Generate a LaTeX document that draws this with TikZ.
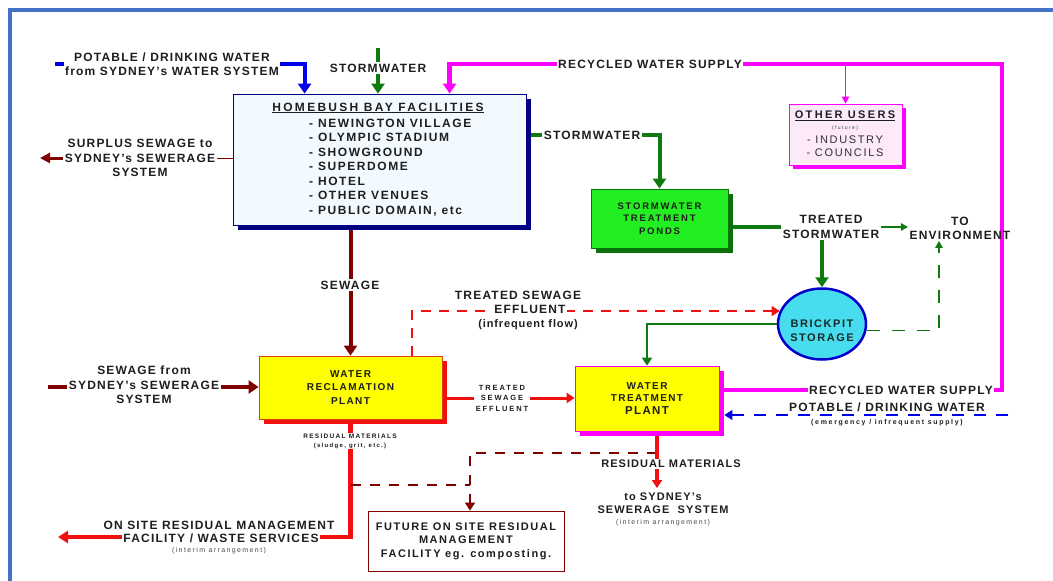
\documentclass[tikz,border=0pt]{standalone}
\usepackage{fontspec}
\setmainfont{Liberation Sans}
\usetikzlibrary{arrows.meta,shapes.geometric,shadows,backgrounds}
\definecolor{frameblue}{HTML}{4472C4}
\definecolor{ink}{HTML}{1E1E1E}
\definecolor{navy}{HTML}{000080}
\definecolor{hbfill}{HTML}{F3FAFF}
\definecolor{sewred}{HTML}{800000}
\definecolor{pipered}{HTML}{F01010}
\definecolor{pipegreen}{HTML}{0F7A0F}
\definecolor{pondgreen}{HTML}{22EE22}
\definecolor{pondshadow}{HTML}{0A700A}
\definecolor{pipemag}{HTML}{FF00FF}
\definecolor{othfill}{HTML}{FCE9FA}
\definecolor{brickfill}{HTML}{48DDEE}
\definecolor{brickblue}{HTML}{0000CC}
\definecolor{pipeblue}{HTML}{0000EE}
\definecolor{plantyellow}{HTML}{FFFF00}
\definecolor{wrpedge}{HTML}{E04010}
\newcommand{\fsz}[3]{\fontsize{#1}{#2}\selectfont\bfseries\addfontfeatures{LetterSpace=#3}}
\newcommand{\fszr}[3]{\fontsize{#1}{#2}\selectfont\addfontfeatures{LetterSpace=#3}}
\begin{document}
\begin{tikzpicture}[x=1pt,y=-1pt,
  lbl/.style={fill=white, inner sep=1.5pt, align=center, text=ink, font=\fsz{12}{14.5}{10}},
  plain/.style={inner sep=0pt, align=center, text=ink, font=\fsz{12}{14.5}{10}},
  note/.style={fill=white, inner sep=0.5pt, align=center, text=ink!80, font=\fszr{7}{8}{20}},
  hbbox/.style={draw=navy, line width=0.8pt, fill=hbfill, inner sep=0pt,
    minimum width=293pt, minimum height=131pt,
    drop shadow={shadow xshift=5pt, shadow yshift=-5pt, fill=navy, opacity=1}},
  othbox/.style={draw=pipemag, line width=0.8pt, fill=othfill, inner sep=0pt,
    minimum width=113pt, minimum height=61pt,
    drop shadow={shadow xshift=4pt, shadow yshift=-4pt, fill=pipemag, opacity=1}},
  pondbox/.style={draw=pondshadow, line width=0.8pt, fill=pondgreen, align=center, text=ink,
    minimum width=137pt, minimum height=59pt, inner sep=0pt, font=\fsz{9.5}{12.5}{19},
    drop shadow={shadow xshift=5pt, shadow yshift=-5pt, fill=pondshadow, opacity=1}},
  wrpbox/.style={draw=wrpedge, line width=0.8pt, fill=plantyellow, align=center, text=ink,
    minimum width=183pt, minimum height=63pt, inner sep=0pt, font=\fsz{10}{13.5}{14},
    drop shadow={shadow xshift=5pt, shadow yshift=-5pt, fill=pipered, opacity=1}},
  wtpbox/.style={draw=pipemag, line width=0.8pt, fill=plantyellow, align=center, text=ink,
    minimum width=144pt, minimum height=65pt, inner sep=0pt, font=\fsz{10}{12.5}{14},
    drop shadow={shadow xshift=5pt, shadow yshift=-5pt, fill=pipemag, opacity=1}},
  futbox/.style={draw=sewred, line width=0.8pt, fill=white, align=center, text=ink,
    minimum width=196pt, minimum height=60pt, inner sep=0pt, font=\fsz{11}{13.5}{14}},
  brickpit/.style={ellipse, draw=brickblue, line width=2.5pt, fill=brickfill,
    minimum width=88pt, minimum height=71pt, inner sep=0pt},
  pipe/.style={line width=4pt},
  bigtip/.style={-{Triangle[length=10pt,width=13pt]}},
  midtip/.style={-{Triangle[length=8pt,width=10pt]}},
  smalltip/.style={-{Triangle[length=7pt,width=7.5pt]}},
  ]
  \useasboundingbox (0,0) rectangle (1053,581);
  % ---- frame ---------------------------------------------------------------
  \draw[frameblue, line width=4.5pt] (10,600) -- (10,10) -- (1070,10);
  % ---- boxes ---------------------------------------------------------------
  \node[hbbox] (hb) at (379.5,159.5) {};
  \node[plain, font=\fsz{12}{14}{19}] (hbtitle) at (378,108) {\underline{HOMEBUSH BAY FACILITIES}};
  \node[plain, font=\fsz{12}{14.5}{13}, align=left, anchor=west] (hblist) at (309,167.5)
    {- NEWINGTON VILLAGE\\- OLYMPIC STADIUM\\- SHOWGROUND\\- SUPERDOME\\- HOTEL\\- OTHER VENUES\\- PUBLIC DOMAIN, etc};
  \node[othbox] (oth) at (845.5,134.5) {};
  \node[plain, font=\fsz{11}{13}{21}] (othtitle) at (845,116) {\underline{OTHER USERS}};
  \node[plain, font=\fszr{5}{6}{28}, text=ink!85] (othnote) at (845,128) {(future)};
  \node[plain, font=\fszr{11}{13}{15}, text=ink!92] (othlist) at (845,146) {- INDUSTRY\\- COUNCILS};
  \node[pondbox] (ponds) at (659.5,218.5) {STORMWATER\\TREATMENT\\PONDS};
  \node[brickpit] (brick) at (822,324) {};
  \node[plain, font=\fsz{11}{14}{14}, text=ink!90!teal] (bricktxt) at (822,331) {BRICKPIT\\STORAGE};
  \node[wrpbox] (wrp) at (350.5,387.5) {WATER\\RECLAMATION\\PLANT};
  \node[wtpbox] (wtp) at (647,398.5) {WATER\\TREATMENT\\{\fsz{11.5}{12.5}{12}PLANT}};
  \node[futbox] (fut) at (466,541) {FUTURE ON SITE RESIDUAL\\MANAGEMENT\\FACILITY eg. composting.};
  % ---- labels on the pipes -------------------------------------------------
  \node[lbl, font=\fsz{12}{14}{10}] (potable) at (172,64) {POTABLE / DRINKING WATER\\from SYDNEY's WATER SYSTEM};
  \node[lbl] (sttop) at (378,68) {STORMWATER};
  \node[lbl] (rectop) at (650,64) {RECYCLED WATER SUPPLY};
  \node[lbl] (surplus) at (140,158) {SURPLUS SEWAGE to\\SYDNEY's SEWERAGE\\SYSTEM};
  \node[lbl] (stright) at (592,135) {STORMWATER};
  \node[lbl, font=\fsz{12}{15}{10}] (tsw) at (831,227) {TREATED\\STORMWATER};
  \node[plain, font=\fsz{12}{14}{10}, inner sep=1.5pt] (toenv) at (960,228) {TO\\ENVIRONMENT};
  \node[lbl] (sewage) at (350,285) {SEWAGE};
  \node[lbl] (sewfrom) at (144,385) {SEWAGE from\\SYDNEY's SEWERAGE\\SYSTEM};
  \node[plain] (tse1) at (518,295) {TREATED SEWAGE};
  \node[lbl] (tse2) at (530,309) {EFFLUENT};
  \node[plain, font=\fsz{11}{13}{8}] (tse3) at (528,325) {(infrequent flow)};
  \node[lbl, font=\fsz{7.5}{10.5}{25}] (tsesmall) at (502,398) {TREATED\\SEWAGE\\EFFLUENT};
  \node[lbl, font=\fsz{6.5}{9}{20}, inner sep=0.5pt] (reswrp) at (350,441) {RESIDUAL MATERIALS\\{\fsz{6}{9}{22}(sludge, grit, etc.)}};
  \node[plain] (onsite1) at (219,525) {ON SITE RESIDUAL MANAGEMENT};
  \node[lbl] (onsite2) at (221,538) {FACILITY / WASTE SERVICES};
  \node[note] (onsite3) at (219,551) {(interim arrangement)};
  \node[lbl, font=\fsz{11}{13}{9.5}] (reswtp) at (671,464) {RESIDUAL MATERIALS};
  \node[plain, font=\fsz{11}{13}{10}] (tosyd) at (663,503.5) {to SYDNEY's\\SEWERAGE~~SYSTEM};
  \node[note] (tosydnote) at (663,523) {(interim arrangement)};
  \node[lbl] (recbot) at (901,390) {RECYCLED WATER SUPPLY};
  \node[lbl] (potbot) at (887,407.5) {POTABLE / DRINKING WATER};
  \node[plain, font=\fsz{7}{8}{24}] (potnote) at (887,423) {(emergency / infrequent supply)};
  % ---- free ends and bends -------------------------------------------------
  \coordinate (potS) at (55,64);
  \coordinate (stS) at (378,48);
  \coordinate (recTR) at (1002,64);
  \coordinate (recBR) at (1002,390);
  \coordinate (surE) at (40,158);
  \coordinate (sfS) at (48,387);
  \coordinate (osE) at (58,537);
  \coordinate (fj) at (470,485);
  \coordinate (fk) at (470,453);
  \coordinate (rsE) at (657,488);
  \coordinate (pbS) at (1008,415);
  \coordinate (wtpR) at ([xshift=10pt]wtp.south);
  \coordinate (wtpE) at ([xshift=5pt]wtp.east);
  % ---- pipes ---------------------------------------------------------------
  \begin{scope}[on background layer]
    \draw[pipe, pipeblue, bigtip] (potS) -| ([xshift=72pt]hb.north west);
    \draw[pipe, pipegreen, bigtip] (stS) -- (stS |- hb.north);
    \draw[pipe, line width=4.5pt, pipemag, bigtip] (wtp.east |- recbot) -- (recBR) -- (recTR)
      -| ([xshift=217pt]hb.north west);
    \draw[pipemag, line width=1.3pt, smalltip] (oth.north |- recTR) -- (oth.north);
    \draw[sewred, line width=1pt] (hb.west |- surplus) -- (surplus.east);
    \draw[sewred, line width=3pt, -{Triangle[length=10pt,width=10pt]}] (surplus.west) -- (surE);
    \draw[pipe, pipegreen, bigtip] (hb.east |- stright) -| (ponds.north);
    \draw[pipe, pipegreen] (ponds.east |- tsw) -- (tsw);
    \draw[pipegreen, line width=1.3pt, smalltip] (tsw.east) -- (tsw.east -| toenv.west);
    \draw[pipe, pipegreen, bigtip] (brick.north |- tsw.south) -- (brick.north);
    \draw[pipegreen, line width=1.2pt, dash pattern=on 13pt off 12pt, smalltip]
      (brick.352) -| ([xshift=-21pt]toenv.south);
    \draw[pipegreen, line width=2.5pt, midtip] (brick.west) -| (wtp.north);
    \draw[pipered, line width=1.2pt, dash pattern=on 10pt off 8pt, midtip]
      ([xshift=61.5pt]wrp.north) |- (brick.163);
    \draw[pipe, sewred, bigtip] (wrp.north |- hb.south) -- (wrp.north);
    \draw[pipe, sewred, bigtip] (sfS) -- (sfS -| wrp.west);
    \draw[pipered, line width=3pt, midtip] (wrp.east |- tsesmall) -- (wtp.west |- tsesmall);
    \draw[pipered, line width=4.5pt, -{Triangle[length=10pt,width=12pt]}] (wrp.south) |- (osE);
    \draw[sewred, line width=1.5pt, dash pattern=on 10pt off 9pt] (wrp.south |- fj) -- (fj);
    \draw[sewred, line width=1.5pt, dash pattern=on 10pt off 9pt, midtip]
      (wtpR |- fk) -- (fk) -- (fk |- fut.north);
    \draw[pipered, line width=3.5pt, midtip] (wtpR) -- (rsE);
    \draw[pipeblue, line width=1.3pt, dash pattern=on 12pt off 10pt, midtip] (pbS) -- (wtpE |- pbS);
  \end{scope}
\end{tikzpicture}
\end{document}
